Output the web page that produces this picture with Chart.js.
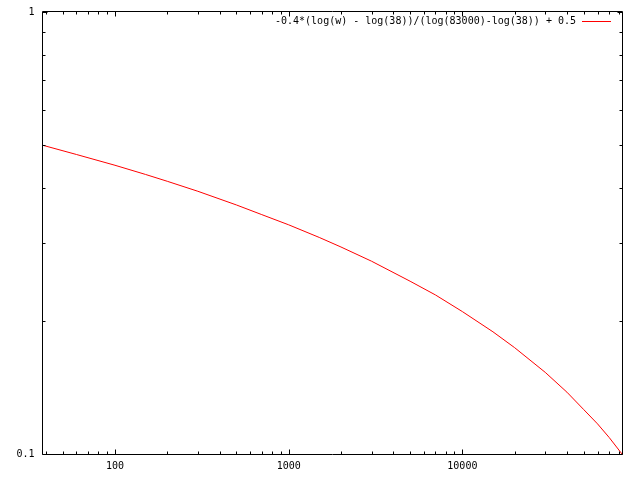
<!DOCTYPE html>
<html>
<head>
<meta charset="utf-8">
<script src="https://cdn.jsdelivr.net/npm/chart.js@4/dist/chart.umd.min.js"></script>
<style>
  body { margin: 0; background: #fff; }
  canvas { display: block; }
</style>
</head>
<body>
<canvas id="plot" width="640" height="480"></canvas>
<script>
// values (log-log axes)
var wValues = [38, 60, 100, 150, 200, 300, 500, 700, 1000, 1500, 2000, 3000, 5000, 7000,
               10000, 15000, 20000, 30000, 40000, 50000, 60000, 70000, 83000];
var yValues = [0.500, 0.476, 0.450, 0.429, 0.414, 0.393, 0.366, 0.348, 0.330, 0.309, 0.294, 0.273, 0.246, 0.229,
               0.210, 0.189, 0.174, 0.153, 0.138, 0.126, 0.117, 0.109, 0.100];
var xTickLabels = [100, 1000, 10000];
var yTickLabels = [0.1, 1];
var seriesLabel = "-0.4*(log(w) - log(38))/(log(83000)-log(38)) + 0.5";

var xMin = 38, xMax = 83000, yMin = 0.1, yMax = 1;
var fontStr = "10px 'DejaVu Sans Mono', monospace";

var points = [];
for (let i = 0; i < wValues.length; i++) {
    points.push({ x: wValues[i], y: yValues[i] });
}

// gnuplot style frame: border, inward ticks on all sides, labels, key
var framePlugin = {
    id: "frame",
    afterDraw: function(chart) {
        var ctx = chart.ctx;
        var area = chart.chartArea;
        var xs = chart.scales.x, ys = chart.scales.y;
        var L = area.left + 0.5, R = area.right + 0.5, T = area.top - 0.5, B = area.bottom + 0.5;
        ctx.save();
        ctx.strokeStyle = "#000";
        ctx.lineWidth = 1;
        ctx.beginPath();
        ctx.rect(L, T, R - L, B - T);
        ctx.stroke();

        ctx.beginPath();
        // x ticks
        for (let d = 1; d <= 4; d++) {
            for (let m = 1; m <= 9; m++) {
                var v = m * Math.pow(10, d);
                if (v < xMin || v > xMax) continue;
                var px = Math.round(xs.getPixelForValue(v)) + 0.5;
                var len = (m == 1) ? 5 : 3;
                ctx.moveTo(px, B); ctx.lineTo(px, B - len);
                ctx.moveTo(px, T); ctx.lineTo(px, T + len);
            }
        }
        // y ticks
        for (let m = 1; m <= 10; m++) {
            var yv = m / 10;
            var py = Math.round(ys.getPixelForValue(yv)) + 0.5;
            var ylen = (m == 1 || m == 10) ? 5 : 3;
            ctx.moveTo(L, py); ctx.lineTo(L + ylen, py);
            ctx.moveTo(R, py); ctx.lineTo(R - ylen, py);
        }
        ctx.stroke();

        ctx.fillStyle = "#000";
        ctx.font = fontStr;
        ctx.textBaseline = "middle";
        ctx.textAlign = "center";
        xTickLabels.forEach(function(v) {
            ctx.fillText(String(v), xs.getPixelForValue(v), B + 12);
        });
        ctx.textAlign = "right";
        yTickLabels.forEach(function(v) {
            ctx.fillText(String(v), L - 8, ys.getPixelForValue(v));
        });

        // key
        ctx.fillText(seriesLabel, 576, 21);
        ctx.strokeStyle = "#ff0000";
        ctx.beginPath();
        ctx.moveTo(582, 21.5);
        ctx.lineTo(611, 21.5);
        ctx.stroke();
        ctx.restore();
    }
};

var chart = new Chart(document.getElementById("plot").getContext("2d"), {
    type: "line",
    data: {
        datasets: [{
            label: seriesLabel,
            data: points,
            borderColor: "#ff0000",
            borderWidth: 1,
            pointRadius: 0,
            fill: false,
            tension: 0
        }]
    },
    options: {
        responsive: false,
        animation: false,
        layout: { padding: { left: 42, top: 12, right: 18, bottom: 26 } },
        scales: {
            x: { type: "logarithmic", min: xMin, max: xMax, display: false },
            y: { type: "logarithmic", min: yMin, max: yMax, display: false }
        },
        plugins: {
            legend: { display: false },
            tooltip: { enabled: false }
        }
    },
    plugins: [framePlugin]
});
</script>
</body>
</html>
